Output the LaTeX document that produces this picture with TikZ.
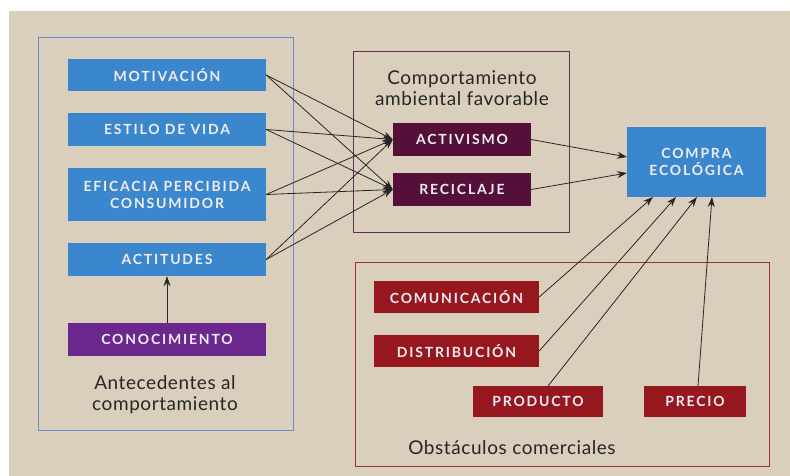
\documentclass[tikz,border=0pt]{standalone}
\usepackage{fontspec}
\setmainfont{Lato}
\usetikzlibrary{arrows.meta}
\definecolor{bg}{RGB}{218,207,188}
\definecolor{cblue}{RGB}{58,135,205}
\definecolor{cmaroon}{RGB}{84,16,56}
\definecolor{cpurple}{RGB}{106,40,142}
\definecolor{cred}{RGB}{150,24,30}
\definecolor{oblue}{RGB}{110,140,195}
\definecolor{opurple}{RGB}{95,45,85}
\definecolor{ored}{RGB}{165,45,45}
\definecolor{txt}{RGB}{240,236,245}
\tikzset{
  lbl/.style={inner sep=0pt, align=center, text=txt,
    font=\fontsize{14}{17}\selectfont\bfseries\addfontfeature{LetterSpace=13}},
  bluebox/.style={lbl, fill=cblue},
  maroonbox/.style={lbl, fill=cmaroon},
  purplebox/.style={lbl, fill=cpurple},
  redbox/.style={lbl, fill=cred},
  caption/.style={align=center, text=black!85, font=\fontsize{19}{21}\selectfont\addfontfeature{LetterSpace=3}},
  arr/.style={line width=0.8pt, draw=black!85, -{Stealth[length=10pt,width=7pt]}},
  frame/.style={line width=0.9pt}
}
\begin{document}
\begin{tikzpicture}[x=1pt,y=-1pt]
\useasboundingbox (0,0) rectangle (790,476);
\fill[white] (0,0) rectangle (790,476);
\fill[bg] (9,11) rectangle (790,476);
% frames
\draw[frame, oblue] (38,37) rectangle (293,430);
\draw[frame, opurple] (353,51) rectangle (569,232);
\draw[frame, ored] (355,262) rectangle (769,466);
% left nodes
\node[bluebox, minimum width=198pt, minimum height=32pt] (mot) at (167,75) {MOTIVACIÓN};
\node[bluebox, minimum width=198pt, minimum height=33pt] (est) at (167,129.5) {ESTILO DE VIDA};
\node[bluebox, minimum width=198pt, minimum height=53pt] (efi) at (167,194.5) {EFICACIA PERCIBIDA\\CONSUMIDOR};
\node[bluebox, minimum width=198pt, minimum height=33pt] (act) at (167,259.5) {ACTITUDES};
\node[purplebox, minimum width=198pt, minimum height=33pt] (con) at (167,339.5) {CONOCIMIENTO};
\node[caption] (antc) at (165,395) {Antecedentes al\\comportamiento};
% middle
\node[caption] (cab) at (462,88.5) {Comportamiento\\ambiental favorable};
\node[maroonbox, minimum width=138pt, minimum height=33pt] (acv) at (462,139.5) {ACTIVISMO};
\node[maroonbox, minimum width=138pt, minimum height=33pt] (rec) at (462,189.5) {RECICLAJE};
% right
\node[bluebox, minimum width=139pt, minimum height=70pt] (cmp) at (696.5,162) {COMPRA\\ECOLÓGICA};
% bottom
\node[redbox, minimum width=165pt, minimum height=32pt] (com) at (456.5,297) {COMUNICACIÓN};
\node[redbox, minimum width=165pt, minimum height=32pt] (dis) at (456.5,351) {DISTRIBUCIÓN};
\node[redbox, minimum width=130pt, minimum height=31pt] (pro) at (538,401.5) {PRODUCTO};
\node[redbox, minimum width=102pt, minimum height=31pt] (pre) at (695,401.5) {PRECIO};
\node[caption] (obs) at (512,448) {Obstáculos comerciales};
% coordinates
\coordinate (t1) at (653,197);
\coordinate (t2) at (676,197);
\coordinate (t3) at (697,197);
\coordinate (t4) at (712,197);
\coordinate (ca) at (627,157);
\coordinate (cr) at (627,173);
\coordinate (pros) at (548,386);
\coordinate (pres) at (698,386);
% arrows left
\foreach \s in {mot,est,efi,act}{
  \draw[arr] (\s.east) -- (acv.west);
  \draw[arr] (\s.east) -- (rec.west);
}
\draw[arr] (con.north) -- (act.south);
\draw[arr] (acv.east) -- (ca);
\draw[arr] (rec.east) -- (cr);
\draw[arr] (com.east) -- (t1);
\draw[arr] (dis.east) -- (t2);
\draw[arr] (pros) -- (t3);
\draw[arr] (pres) -- (t4);
\end{tikzpicture}
\end{document}
